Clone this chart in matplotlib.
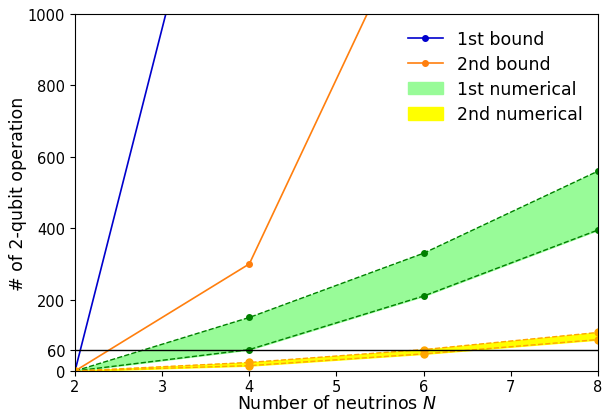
import numpy as np
import matplotlib
matplotlib.use("Agg")
import matplotlib.pyplot as plt

# datos
N = [2, 4, 6, 8]
bound1 = [0, 1920, 7000, 16000]
bound2 = [0, 300, 1336, 3000]
num1_up = [0, 150, 330, 560]
num1_lo = [0, 60, 210, 395]
num2_up = [0, 24, 60, 108]
num2_lo = [0, 15, 48, 88]
yticks = [0, 60, 200, 400, 600, 800, 1000]

fig = plt.figure(figsize=(6.03, 4.14), dpi=100)
ax = fig.add_axes([75/603, 1-372/414, (598-75)/603, (372-15)/414])

ax.plot(N, bound1, '-o', color='mediumblue', ms=4, lw=1.2, label='1st bound')
ax.plot(N, bound2, '-o', color='tab:orange', ms=4, lw=1.2, label='2nd bound')

ax.fill_between(N, num1_lo, num1_up, color='palegreen', label='1st numerical')
ax.plot(N, num1_up, '--o', color='green', ms=4, lw=1)
ax.plot(N, num1_lo, '--o', color='green', ms=4, lw=1)

ax.fill_between(N, num2_lo, num2_up, color='yellow', label='2nd numerical')
ax.plot(N, num2_up, '--o', color='orange', ms=5, lw=1)
ax.plot(N, num2_lo, '--o', color='orange', ms=5, lw=1)

ax.axhline(60, color='black', lw=1)

ax.set_xlim(2, 8)
ax.set_ylim(0, 1000)
ax.set_yticks(yticks)
ax.tick_params(labelsize=10.5)
ax.tick_params(axis='x', pad=2.5)
ax.set_xlabel('Number of neutrinos $N$', fontsize=12.5, labelpad=0)
ax.set_ylabel('# of 2-qubit operation', fontsize=12.5, labelpad=1)
ax.legend(loc='upper right', frameon=False, fontsize=12.5, labelspacing=0.42)

fig.savefig('out.png', dpi=100)
